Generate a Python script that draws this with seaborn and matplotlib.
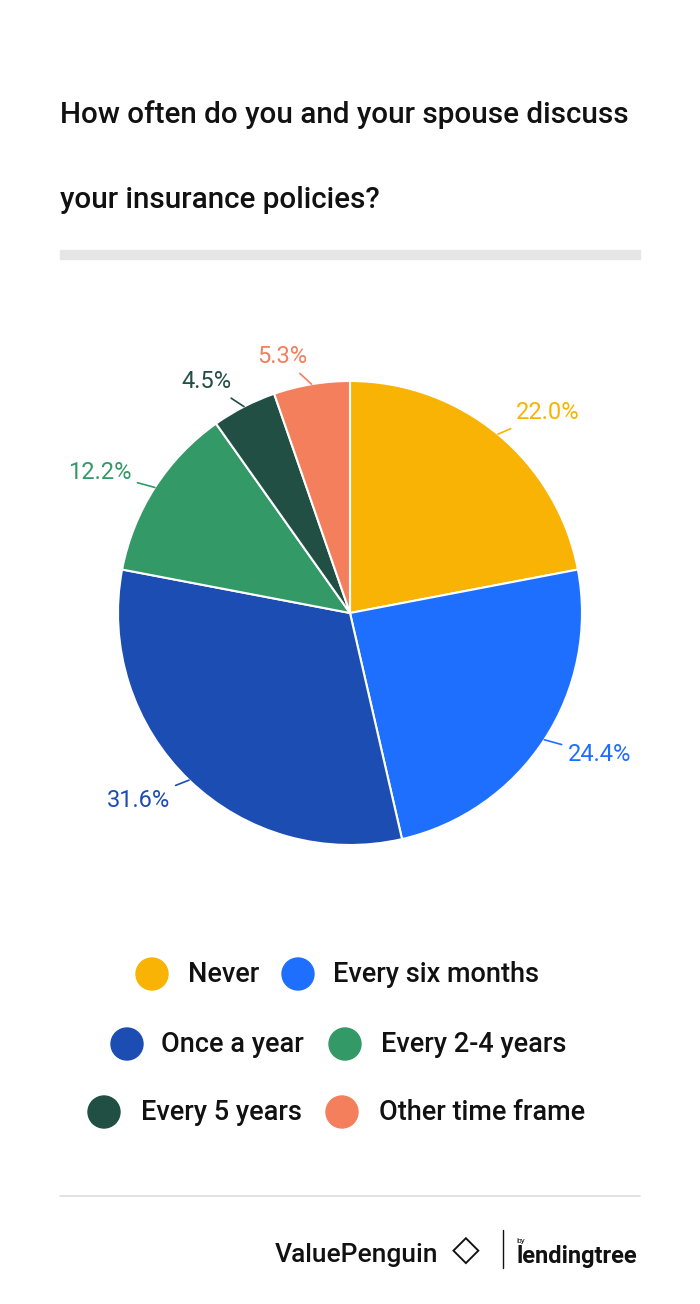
import matplotlib
matplotlib.use("Agg")
import matplotlib.pyplot as plt
import seaborn as sns
import numpy as np

sns.set_theme(style="white")
plt.rcParams['font.family'] = ['Roboto', 'DejaVu Sans']

categories = ["Never", "Every six months", "Once a year", "Every 2-4 years", "Every 5 years", "Other time frame"]
values = [22.0, 24.4, 31.6, 12.2, 4.5, 5.3]
colors = ["#F9B304", "#1F6FFF", "#1B4DB3", "#339966", "#214F44", "#F47F5D"]
labels = ["22.0%", "24.4%", "31.6%", "12.2%", "4.5%", "5.3%"]

W, H = 700, 1304
fig = plt.figure(figsize=(W/100, H/100), dpi=100)
fig.patch.set_facecolor("white")

def fx(x): return x / W
def fy(y): return 1 - y / H

fig.text(fx(60), fy(115), "How often do you and your spouse discuss", fontsize=21.3, weight="medium", va="center", color="#111")
fig.text(fx(60), fy(200), "your insurance policies?", fontsize=21.3, weight="medium", va="center", color="#111")
fig.patches.append(plt.Rectangle((fx(60), fy(259)), fx(580), 9/H, transform=fig.transFigure, color="#E6E6E6"))

r = 232
cx, cy = 350, 613
ax = fig.add_axes([fx(cx - r), fy(cy + r), 2*r/W, 2*r/H])
wedges, _ = ax.pie(values, colors=colors, startangle=90, counterclock=False, radius=1,
                   wedgeprops=dict(edgecolor="white", linewidth=1.5))
ax.set_xlim(-1, 1); ax.set_ylim(-1, 1); ax.set_aspect("equal"); ax.axis("off")

for w, lab, c in zip(wedges, labels, colors):
    ang = np.deg2rad((w.theta1 + w.theta2) / 2)
    x, y = np.cos(ang), np.sin(ang)
    ha = "left" if x > 0.05 else ("right" if x < -0.05 else "center")
    tx, ty = 1.12 * x, 1.12 * y
    ax.annotate(lab, xy=(x, y), xytext=(tx, ty), ha=ha, va="center", fontsize=17, color=c,
                arrowprops=dict(arrowstyle="-", color=c, lw=1.2, shrinkA=2, shrinkB=0),
                annotation_clip=False)

legend_rows = [[(152, 0, 188), (298, 1, 333)], [(127, 2, 161), (345, 3, 381)], [(104, 4, 141), (342, 5, 379)]]
for yy, row in zip([974, 1044, 1112], legend_rows):
    for cxp, i, tx in row:
        fig.patches.append(matplotlib.patches.Ellipse((fx(cxp), fy(yy)), 32/W, 32/H, transform=fig.transFigure, color=colors[i]))
        fig.text(fx(tx), fy(yy), categories[i], fontsize=19.5, weight="medium", va="center", color="#111")

fig.lines.append(plt.Line2D([fx(60), fx(640)], [fy(1196), fy(1196)], transform=fig.transFigure, color="#DDDDDD", lw=1.2))
fig.text(fx(275), fy(1255), "ValuePenguin", fontsize=19, weight="medium", va="center", color="#111")
fig.text(fx(452), fy(1250), "◇", fontsize=26, va="center", color="#111")
fig.lines.append(plt.Line2D([fx(503), fx(503)], [fy(1230), fy(1268)], transform=fig.transFigure, color="#111", lw=1))
fig.text(fx(516), fy(1241), "by", fontsize=6, va="center", color="#111")
fig.text(fx(516), fy(1257), "lendingtree", fontsize=17, weight="bold", va="center", color="#111")

fig.savefig("out.png", dpi=100)
